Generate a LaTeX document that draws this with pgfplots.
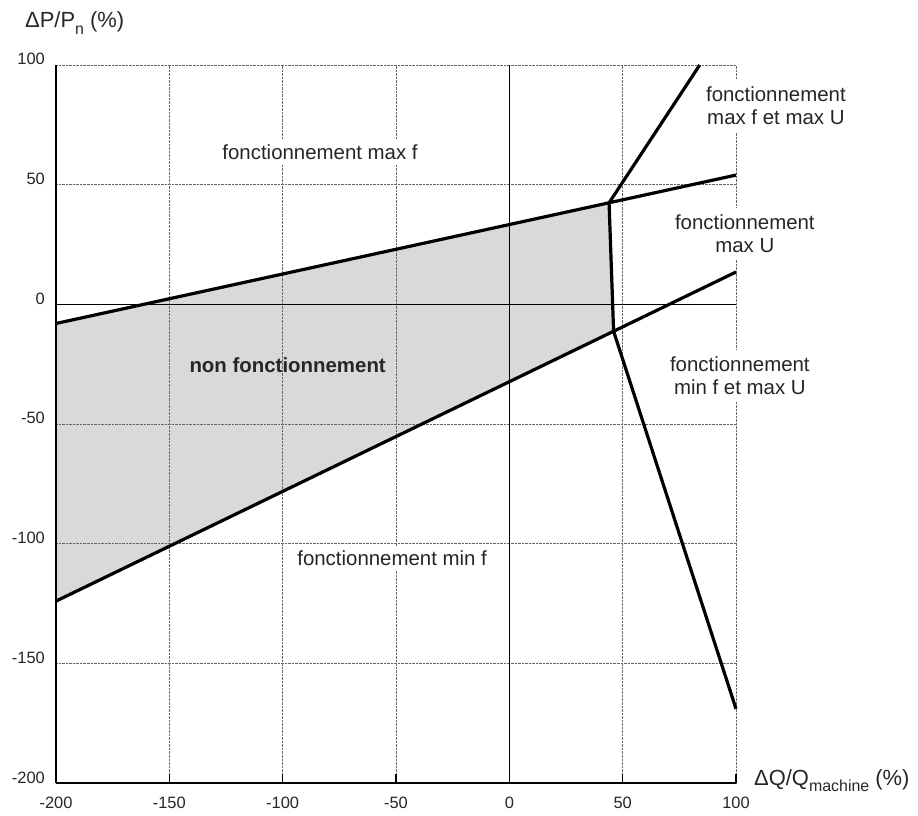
\documentclass[border=0pt]{standalone}
\usepackage{pgfplots}
\pgfplotsset{compat=1.18}
\usepackage{fontspec}
\setmainfont{Liberation Sans}
\definecolor{regiongray}{HTML}{D9D9D9}
\newcommand{\sub}[1]{\raisebox{-0.3em}{\fontsize{16}{18}\selectfont #1}}
\begin{document}
\begin{tikzpicture}
\begin{axis}[
  name=ax,
  scale only axis,
  width=680bp, height=718bp,
  xmin=-200, xmax=100, ymin=-200, ymax=100,
  xtick={-200,-150,...,100},
  ytick={-200,-150,...,100},
  set layers=standard,
  clip=false,
  axis x line*=bottom, axis y line*=left,
  axis line style={-, line width=1.8bp, black},
  grid=major,
  major grid style={densely dotted, line width=0.9bp, black!60},
  extra x ticks={0}, extra y ticks={0},
  extra x tick labels={}, extra y tick labels={},
  extra tick style={major grid style={solid, black, line width=1.3bp}},
  xtick align=inside,
  major tick length=9bp,
  x tick style={black, line width=1.3bp},
  y tick style={draw=none},
  tick label style={font=\fontsize{16.5}{19}\selectfont, text=black!85},
  /pgf/number format/assume math mode=true,
  xticklabel style={anchor=north, inner sep=0pt, yshift=-14bp},
  yticklabel style={anchor=base east, inner sep=0pt, xshift=-11bp},
]
\addplot[fill=regiongray, draw=none, on layer=axis background] coordinates {(-200,-8) (44,42.4) (46,-11.25) (-200,-124) (-200,-8)};
\addplot[line width=3.2bp, black] coordinates {(-200,-8) (100,54)};
\addplot[line width=3.2bp, black] coordinates {(-200,-124) (100,13.5)};
\addplot[line width=3.2bp, black, line join=round] coordinates {(84,100) (44,42.4) (46,-11.25) (100,-169)};

\begin{scope}[every node/.style={font=\fontsize{20.5}{23}\selectfont, text=black!85}]
\node[fill=white, inner sep=5bp] at (axis cs:-83.5,63.6) {fonctionnement max f};
\node[font=\fontsize{20.5}{23}\selectfont\bfseries] at (axis cs:-97.8,-25.4) {non fonctionnement};
\node[fill=white, inner sep=5bp] at (axis cs:-51.7,-106) {fonctionnement min f};
\node[fill=white, inner sep=7bp, align=center] at (axis cs:117.6,82.9) {fonctionnement\\max f et max U};
\node[fill=white, inner sep=7bp, align=center] at (axis cs:103.9,29.4) {fonctionnement\\max U};
\node[fill=white, inner sep=7bp, align=center] at (axis cs:101.7,-30.0) {fonctionnement\\min f et max U};
\end{scope}
\end{axis}
\node[anchor=base west, inner sep=0pt, font=\fontsize{22}{25}\selectfont, text=black!85] at ([shift={(-31bp,37bp)}]ax.north west) {ΔP/P\sub{n} (\%)};
\node[anchor=base west, inner sep=0pt, font=\fontsize{22}{25}\selectfont, text=black!85] at ([shift={(18bp,-2bp)}]ax.south east) {ΔQ/Q\sub{machine} (\%)};
\pgfresetboundingbox
\path ([shift={(-56bp,-33bp)}]ax.south west) rectangle ([shift={(182bp,65bp)}]ax.north east);
\end{tikzpicture}
\end{document}
